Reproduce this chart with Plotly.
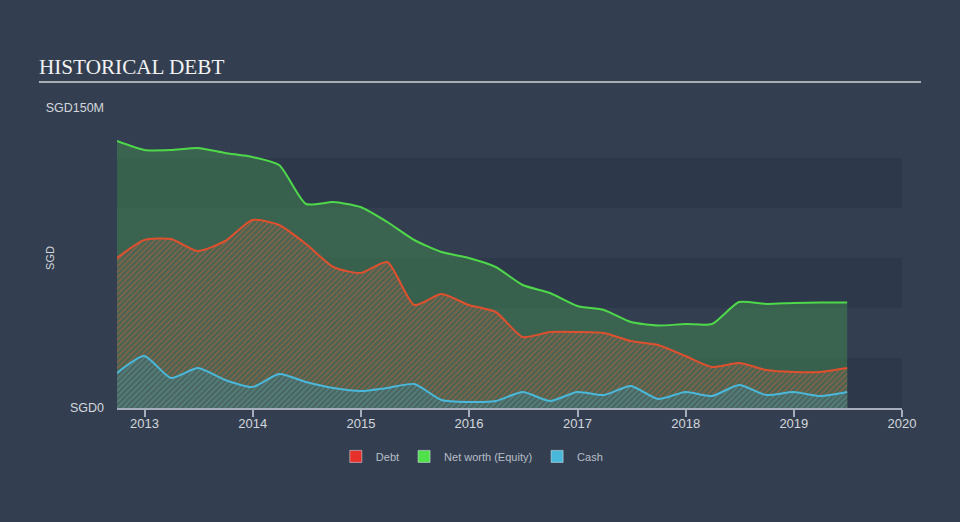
import plotly.graph_objects as go

# quarter-end dates, 2012 Q3 .. 2019 Q2
dates = [
    "2012-09-30", "2012-12-31", "2013-03-31", "2013-06-30", "2013-09-30", "2013-12-31",
    "2014-03-31", "2014-06-30", "2014-09-30", "2014-12-31", "2015-03-31", "2015-06-30",
    "2015-09-30", "2015-12-31", "2016-03-31", "2016-06-30", "2016-09-30", "2016-12-31",
    "2017-03-31", "2017-06-30", "2017-09-30", "2017-12-31", "2018-03-31", "2018-06-30",
    "2018-09-30", "2018-12-31", "2019-03-31", "2019-06-30",
]

# values in SGD millions
net_worth = [133.5, 129, 129, 130, 127.5, 125.5, 121.5, 102, 103, 100.5, 93, 84,
             78, 75, 70.5, 61.5, 57.5, 51, 49, 43, 41.25, 42, 42, 53,
             52, 52.5, 52.75, 52.75]
debt = [75, 84, 84.5, 78.5, 83.5, 94, 91.5, 82, 70.5, 67.5, 73, 51.5,
        57, 51.5, 48, 35.5, 38, 38, 37.5, 33.5, 31.5, 26, 20.5, 22.5,
        19, 18, 18, 20]
cash = [17.5, 26, 15, 20, 14, 10.5, 17, 13, 10, 8.5, 10, 12,
        4, 3, 3.5, 8, 3.5, 8, 6.5, 11, 4.5, 8, 6, 11.5,
        6.5, 8, 6, 8]

tick_vals = [0, 150]
tick_text = ["SGD0", "SGD150M"]

BG = "#333f50"
BAND = "#2d394a"
AXIS = "#a6aebb"
TEXT = "#d3d7dd"

fig = go.Figure()

# net worth: solid green area
fig.add_trace(go.Scatter(
    x=dates, y=net_worth, mode="lines", line=dict(color="#4fd94a", width=2, shape="spline", smoothing=0.6),
    fill="tozeroy", fillcolor="rgba(64,130,80,0.55)", showlegend=False, hoverinfo="skip",
))
# debt: hatched orange area
fig.add_trace(go.Scatter(
    x=dates, y=debt, mode="lines", line=dict(color="#e0502e", width=2, shape="spline", smoothing=0.6),
    fill="tozeroy",
    fillpattern=dict(shape="/", size=4, solidity=0.45, fgcolor="#c2603f", bgcolor="#456452"),
    showlegend=False, hoverinfo="skip",
))
# cash: hatched blue area
fig.add_trace(go.Scatter(
    x=dates, y=cash, mode="lines", line=dict(color="#4ab8db", width=2, shape="spline", smoothing=0.6),
    fill="tozeroy",
    fillpattern=dict(shape="/", size=4, solidity=0.45, fgcolor="#5e9b9a", bgcolor="#4a6460"),
    showlegend=False, hoverinfo="skip",
))

# legend entries as square swatches
for name, col in [("Debt", "#e8302a"), ("Net worth (Equity)", "#4fe04a"), ("Cash", "#4ab8db")]:
    fig.add_trace(go.Bar(x=[None], y=[None], name=name, marker_color=col))

# horizontal background bands
shapes = []
for y0 in [0, 50, 100]:
    shapes.append(dict(type="rect", xref="paper", yref="y", x0=0, x1=1, y0=y0, y1=y0 + 25,
                       fillcolor=BAND, line_width=0, layer="below"))
# underline below title
shapes.append(dict(type="line", xref="paper", yref="paper", x0=-0.0994, x1=1.0242, y0=1.087, y1=1.087,
                   line=dict(color="#a9adb5", width=2)))

fig.update_layout(
    width=960, height=522,
    paper_bgcolor=BG, plot_bgcolor=BG,
    margin=dict(l=117, r=58, t=108, b=114),
    font=dict(family="Liberation Sans, Arial, sans-serif", color=TEXT, size=12),
    title=dict(text="HISTORICAL DEBT", xref="container", yref="container", x=0.0406, y=0.872,
               xanchor="left", yanchor="middle",
               font=dict(family="Liberation Serif, Times New Roman, serif", size=21.2, color="#f2f2f2")),
    shapes=shapes,
    showlegend=True,
    legend=dict(orientation="h", x=0.452, xanchor="center", y=-0.113, yanchor="top",
                font=dict(size=11, color="#b8bec7"), bgcolor="rgba(0,0,0,0)",
                itemwidth=30, traceorder="normal"),
    annotations=[dict(text="SGD", xref="paper", yref="paper", x=-0.0854, y=0.5, textangle=-90,
                      xanchor="center", yanchor="middle",
                      showarrow=False, font=dict(size=11, color=TEXT))],
    xaxis=dict(type="date", range=["2012-09-30", "2020-01-01"], showgrid=False, zeroline=False,
               showline=True, linecolor=AXIS, linewidth=1.5, ticks="outside", tickcolor=AXIS,
               ticklen=7, tickwidth=1.5, ticklabelstandoff=-4,
               tickvals=["2013-01-01", "2014-01-01", "2015-01-01", "2016-01-01", "2017-01-01",
                         "2018-01-01", "2019-01-01", "2020-01-01"],
               ticktext=["2013", "2014", "2015", "2016", "2017", "2018", "2019", "2020"],
               tickfont=dict(size=13, color=TEXT)),
    yaxis=dict(range=[0, 150], showgrid=False, zeroline=False, showline=False,
               tickvals=tick_vals, ticktext=tick_text, ticklabelstandoff=12,
               tickfont=dict(size=12.5, color=TEXT)),
)

# drop the browser's default page margin so the figure sits at the window's origin
fig.write_html("out.html", config={"displayModeBar": False},
               post_script="document.body.style.margin='0';")
